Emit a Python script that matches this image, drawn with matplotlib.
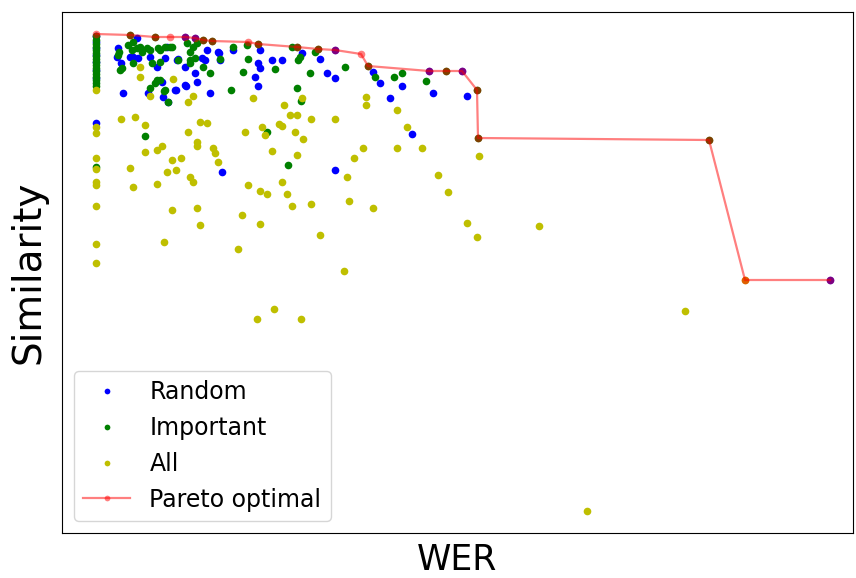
import matplotlib
matplotlib.use("Agg")
import matplotlib.pyplot as plt

# Arbitrary units (chart has no tick labels): WER grows to the right, Similarity grows upward
random_wer = [96, 96, 96, 96, 96, 96, 96, 96,
              118, 117, 123, 130, 138, 137, 150, 157, 165, 177,
              148, 163, 162, 176, 186, 197, 195, 210,
              167, 178, 185, 205, 219, 207,
              121, 133,
              185, 175, 202, 218, 220, 233,
              260, 258, 260, 255, 258, 272, 282, 302, 320, 327, 335, 373, 380, 402, 390, 433, 467, 412,
              222, 335, 168, 185, 195, 335, 429, 462, 830]
random_sim = [564, 558, 552, 545, 538, 530, 522, 477,
              552, 543, 507, 543, 542, 562, 543, 533, 542, 540,
              507, 503, 518, 510, 514, 518, 527, 507,
              553, 541, 533, 540, 547, 550,
              537, 543,
              515, 510, 542, 548, 540, 550,
              550, 537, 532, 523, 514, 540, 540, 547, 541, 527, 522, 528, 517, 514, 502, 507, 504, 466,
              428, 430, 498, 563, 562, 550, 529, 529, 320]

important_wer = [96, 96, 96, 96, 96, 96, 96, 96, 96, 96, 96, 96, 96, 96, 96, 96, 96, 96,
                 119, 118, 122, 128, 133, 137, 132, 142, 147, 150, 158, 165, 170, 133, 152, 160, 160, 155, 150, 165, 168,
                 120, 157, 164, 210, 231, 243, 275, 248, 233, 178, 203, 220, 190, 193, 187, 160, 140,
                 172, 190, 195, 190, 247, 197,
                 292, 298, 300, 315, 297, 310, 345, 375, 394, 402, 426, 301,
                 145, 267, 288,
                 130, 155, 203, 212, 258, 297, 318, 368, 446, 477, 478, 709]
important_sim = [564, 560, 556, 553, 550, 547, 544, 541, 538, 535, 532, 529, 526, 523, 520, 517, 514, 433,
                 548, 545, 532, 555, 558, 552, 550, 548, 552, 550, 552, 553, 553, 537, 537, 538, 520, 517, 512, 510, 498,
                 530, 520, 509, 527, 510, 528, 531, 541, 553, 540, 533, 541, 540, 553, 557, 550, 553,
                 553, 548, 542, 537, 555, 557,
                 553, 540, 543, 548, 512, 527, 533, 523, 523, 527, 519, 499,
                 464, 468, 435,
                 565, 563, 560, 559, 556, 553, 551, 534, 529, 510, 462, 460]

all_wer = [96, 96, 96, 96, 96, 96, 96, 96, 96, 96,
           121, 135, 145, 188, 200, 207, 188, 197, 197, 213, 215, 218, 145, 157, 162, 172, 181, 167, 176, 190,
           193, 130, 133, 157, 172, 197, 200, 242, 260, 245, 262, 265, 272, 282, 260, 267, 287, 292, 284, 290,
           297, 279, 282, 295, 297, 248, 302, 311, 335, 303, 366, 366, 397, 407, 479, 363, 397, 422, 354, 347,
           311, 349, 373, 438, 448, 320, 467, 477, 539, 164, 238, 344, 274, 257, 301, 140, 140, 173, 150, 193,
           253, 685, 587, 745]
all_sim = [510, 473, 467, 442, 431, 418, 415, 394, 356, 337,
           481, 483, 475, 498, 478, 477, 468, 458, 454, 452, 447, 438, 448, 450, 454, 440, 442, 428, 430, 423,
           418, 432, 413, 416, 390, 392, 375, 385, 376, 468, 473, 465, 449, 418, 409, 406, 406, 394, 495, 485,
           485, 476, 474, 468, 445, 415, 502, 481, 481, 461, 503, 495, 490, 473, 444, 452, 452, 452, 442, 423,
           396, 399, 392, 425, 408, 365, 377, 363, 374, 358, 351, 329, 291, 281, 281, 533, 523, 521, 504, 504,
           502, 289, 89, 320]

pareto_wer = [96, 130, 155, 170, 185, 195, 203, 212, 248, 258, 297, 318, 335, 361, 368, 429, 446, 462,
              477, 478, 709, 745, 830]
pareto_sim = [566, 565, 563, 563, 563, 562, 560, 559, 558, 556, 553, 551, 550, 546, 534, 529, 529, 529,
              510, 462, 460, 320, 320]

fig = plt.figure(figsize=(8.56, 5.78), dpi=100)
ax = fig.add_axes([62 / 856, 1 - 533 / 578, (853 - 62) / 856, (533 - 12) / 578])

ms = 5.5
ax.plot(random_wer, random_sim, 'o', color='b', ms=ms, mew=0, label='Random')
ax.plot(important_wer, important_sim, 'o', color='g', ms=ms, mew=0, label='Important')
ax.plot(all_wer, all_sim, 'o', color='y', ms=ms, mew=0, label='All')
ax.plot(pareto_wer, pareto_sim, 'o-', color='r', alpha=0.5, ms=ms, mew=0, lw=1.6, label='Pareto optimal')

ax.set_xlim(62, 853)
ax.set_ylim(67, 588)
ax.set_xticks([])
ax.set_yticks([])
ax.set_xlabel('WER', fontsize=25, labelpad=7.5)
ax.set_ylabel('Similarity', fontsize=28, labelpad=10.5)

leg = ax.legend(loc='lower left', fontsize=17, markerscale=0.75)

fig.savefig('out.png', dpi=100)
